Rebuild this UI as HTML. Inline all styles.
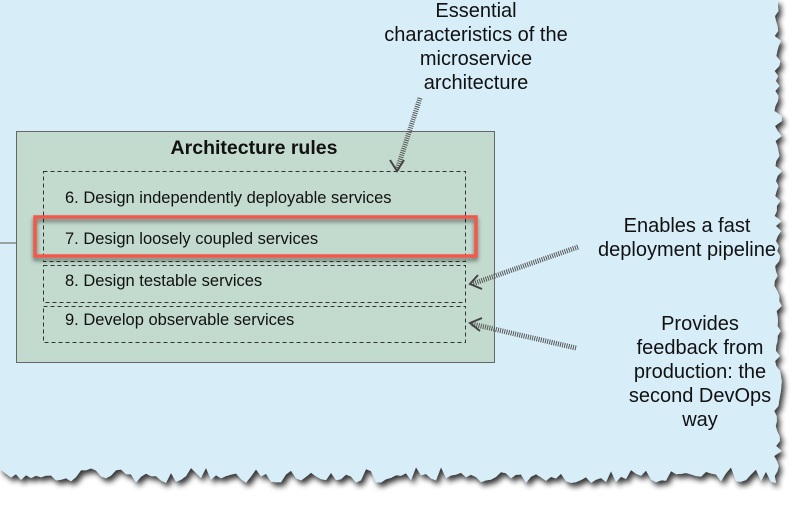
<!DOCTYPE html>
<html><head><meta charset="utf-8"><style>
html,body{margin:0;padding:0;background:#fff;width:800px;height:505px;overflow:hidden}
svg{display:block}
text{font-family:"Liberation Sans",Arial,sans-serif;fill:#111}
</style></head><body>
<svg id="s" width="800" height="505" viewBox="0 0 800 505" xmlns="http://www.w3.org/2000/svg">
<defs>
<filter id="sh" x="-5%" y="-5%" width="115%" height="115%"><feGaussianBlur in="SourceAlpha" stdDeviation="3"/><feOffset dx="3" dy="4"/><feComponentTransfer><feFuncA type="linear" slope="0.8"/></feComponentTransfer><feMerge><feMergeNode/><feMergeNode in="SourceGraphic"/></feMerge></filter>
<filter id="rs" x="-5%" y="-20%" width="110%" height="150%"><feGaussianBlur in="SourceAlpha" stdDeviation="2"/><feOffset dx="0" dy="3"/><feComponentTransfer><feFuncA type="linear" slope="0.5"/></feComponentTransfer><feMerge><feMergeNode/><feMergeNode in="SourceGraphic"/></feMerge></filter>
</defs>
<polygon id="paper" fill="#d7edf8" filter="url(#sh)" points="0,0 780,0 780,480 0,480"/>
<line x1="0" y1="243" x2="16" y2="243" stroke="#555" stroke-width="1"/>
<rect x="16.5" y="131.5" width="478" height="231" fill="#c3dace" stroke="#666" stroke-width="1"/>
<text x="254" y="154" font-size="19.5" font-weight="bold" text-anchor="middle">Architecture rules</text>
<g fill="none" stroke="#333" stroke-width="1" stroke-dasharray="4,3">
<rect x="43.5" y="171.5" width="422" height="90"/>
<rect x="43.5" y="265.5" width="422" height="37"/>
<rect x="43.5" y="306.5" width="422" height="36"/>
</g>
<g font-size="16.5">
<text x="65" y="203">6. Design independently deployable services</text>
<text x="65" y="244">7. Design loosely coupled services</text>
<text x="65" y="286">8. Design testable services</text>
<text x="65" y="325">9. Develop observable services</text>
</g>
<rect x="35" y="217" width="441" height="39" fill="none" stroke="#f0584a" stroke-width="3.5" filter="url(#rs)"/>
<g stroke="#555" stroke-width="5" stroke-dasharray="1,1.2" fill="none">
<line x1="420" y1="98" x2="397" y2="170"/>
<line x1="578" y1="247" x2="472" y2="284"/>
<line x1="576" y1="348" x2="472" y2="324"/>
</g>
<g stroke="#444" stroke-width="2" fill="none">
<polyline points="390,160 397,171 404,160"/>
<polyline points="478,275 470,284 482,289"/>
<polyline points="482,318 470,323 480,331"/>
</g>
<g font-size="20" text-anchor="middle">
<text x="476" y="17">Essential</text>
<text x="476" y="41">characteristics of the</text>
<text x="476" y="65">microservice</text>
<text x="476" y="89">architecture</text>
<text x="687" y="232">Enables a fast</text>
<text x="687" y="256">deployment pipeline</text>
<text x="700" y="330">Provides</text>
<text x="700" y="354">feedback from</text>
<text x="700" y="378">production: the</text>
<text x="700" y="402">second DevOps</text>
<text x="700" y="426">way</text>
</g>
</svg>
<script>
(function(){
var seed=7;function r(){seed=(seed*9301+49297)%233280;return seed/233280;}
var p=["0,0","778,0"];
for(var y=6;y<478;y+=5){p.push((774+r()*8).toFixed(1)+","+y);}
for(var x=776;x>=0;x-=5){p.push(x+","+(473+r()*10 - (r()<0.15?6:0)).toFixed(1));}
p.push("0,470");
document.getElementById("paper").setAttribute("points",p.join(" "));
})();
</script>
</body></html>
